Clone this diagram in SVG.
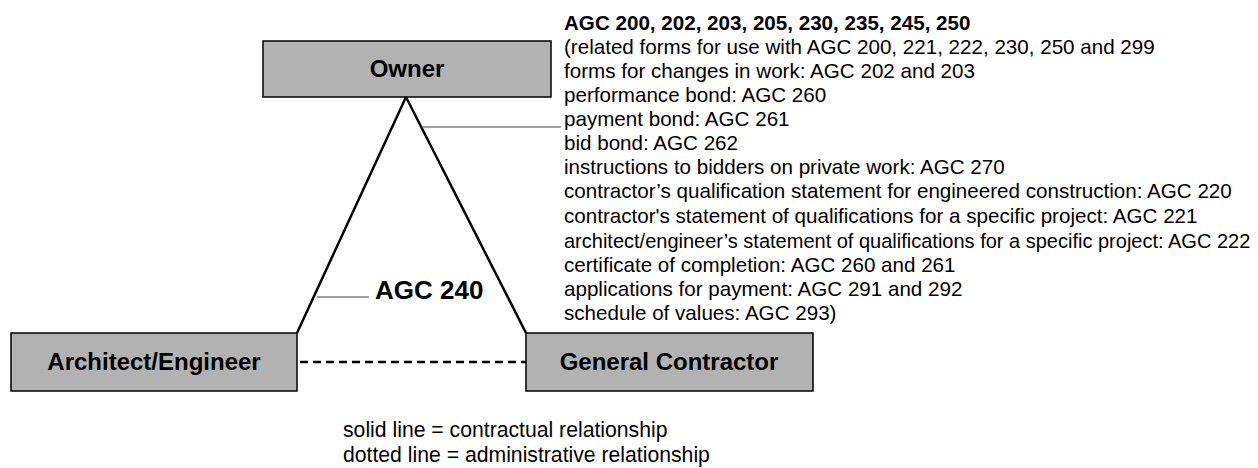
<svg xmlns="http://www.w3.org/2000/svg" width="1258" height="468" viewBox="0 0 1258 468">
<style>
.box{fill:#b2b2b2;stroke:#000;stroke-width:1.5}
.lbl{font-family:"Liberation Sans",Arial,sans-serif;font-weight:bold;font-size:24px;text-anchor:middle;fill:#000}
.txt{font-family:"Liberation Sans",Arial,sans-serif;font-size:20.6px;fill:#000}
.leg{font-family:"Liberation Sans",Arial,sans-serif;font-size:21.2px;fill:#000}
.rel{stroke:#000;stroke-width:2.5;fill:none}
.lead{stroke:#808080;stroke-width:1.5;fill:none}
</style>
<rect width="1258" height="468" fill="#fff"/>
<g id="connectors">
<polyline class="rel" points="297,333 406,97 526,333"/>
<line class="rel" x1="300" y1="362" x2="526" y2="362" stroke-dasharray="8,5"/>
<line class="lead" x1="422" y1="127" x2="561" y2="127"/>
<line class="lead" x1="317" y1="297" x2="369" y2="297"/>
</g>
<g id="owner">
<rect class="box" x="263" y="41" width="288" height="56"/>
<text class="lbl" x="407" y="77">Owner</text>
</g>
<g id="architect">
<rect class="box" x="11" y="333" width="286" height="58"/>
<text class="lbl" x="154" y="370">Architect/Engineer</text>
</g>
<g id="contractor">
<rect class="box" x="526" y="333" width="287" height="58"/>
<text class="lbl" x="669" y="370">General Contractor</text>
</g>
<g id="agc240">
<text x="375" y="299" style="font-family:'Liberation Sans',Arial,sans-serif;font-weight:bold;font-size:26px">AGC 240</text>
</g>
<g id="forms">
<text class="txt" x="564" y="30" font-weight="bold">AGC 200, 202, 203, 205, 230, 235, 245, 250</text>
<text class="txt" x="564" y="54">(related forms for use with AGC 200, 221, 222, 230, 250 and 299</text>
<text class="txt" x="564" y="78">forms for changes in work: AGC 202 and 203</text>
<text class="txt" x="564" y="102">performance bond: AGC 260</text>
<text class="txt" x="564" y="126">payment bond: AGC 261</text>
<text class="txt" x="564" y="150">bid bond: AGC 262</text>
<text class="txt" x="564" y="174">instructions to bidders on private work: AGC 270</text>
<text class="txt" x="564" y="198">contractor’s qualification statement for engineered construction: AGC 220</text>
<text class="txt" x="564" y="223">contractor's statement of qualifications for a specific project: AGC 221</text>
<text class="txt" x="564" y="248" style="font-size:20px">architect/engineer’s statement of qualifications for a specific project: AGC 222</text>
<text class="txt" x="564" y="272">certificate of completion: AGC 260 and 261</text>
<text class="txt" x="564" y="296">applications for payment: AGC 291 and 292</text>
<text class="txt" x="564" y="320">schedule of values: AGC 293)</text>
</g>
<g id="legend">
<text class="leg" x="343" y="437">solid line = contractual relationship</text>
<text class="leg" x="343" y="462">dotted line = administrative relationship</text>
</g>
</svg>
